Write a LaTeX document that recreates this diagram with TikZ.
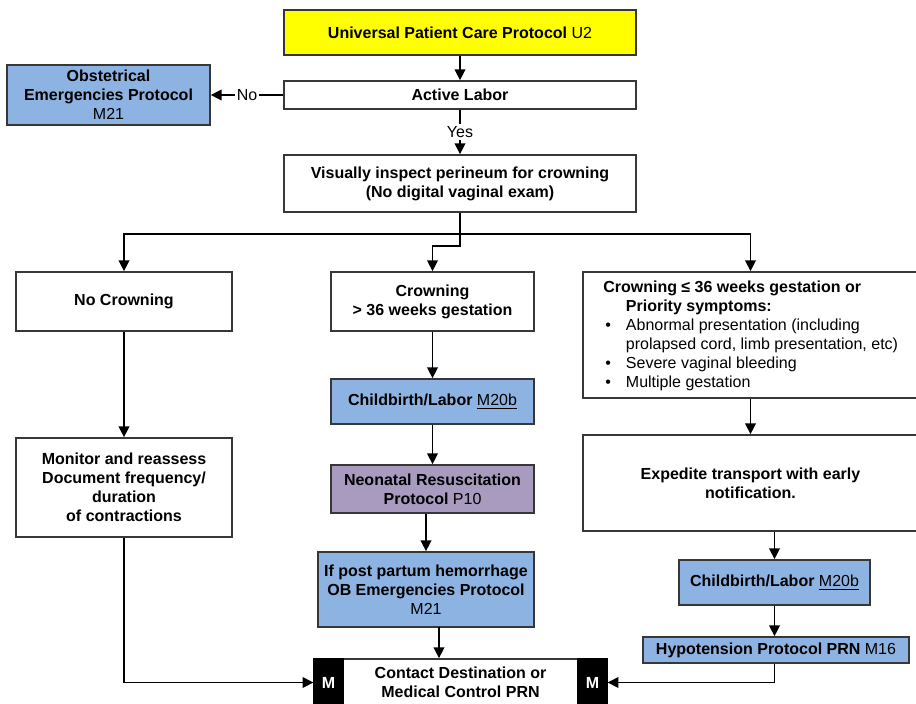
\documentclass[tikz,border=0pt]{standalone}
\usepackage{fontspec}
\setmainfont{Liberation Sans}
\usetikzlibrary{arrows.meta}
\definecolor{protoblue}{RGB}{141,179,226}
\definecolor{protopurple}{RGB}{168,155,191}
\definecolor{protoyellow}{RGB}{255,255,0}
\definecolor{edgegray}{RGB}{55,55,55}
% \flowbox[style]{name}{x1}{y1}{x2}{y2}{text}: a box given by its corners (in px)
\newcommand\flowbox[7][]{%
  \node[box,#1,minimum width={(#5-#3)*0.75pt},minimum height={(#6-#4)*0.75pt}]
    (#2) at ({(#3+#5)/2},{(#4+#6)/2}) {#7};}
\begin{document}
\begin{tikzpicture}[x=0.75pt,y=-0.75pt,
  every node/.style={font=\fontsize{12}{14.25}\selectfont},
  box/.style={draw=edgegray, line width=1.3pt, fill=white, inner sep=0pt, align=center},
  protobox/.style={fill=protoblue},
  mbox/.style={draw=black, fill=black, text=white, line width=1pt,
    font=\fontsize{12}{14.25}\selectfont\bfseries},
  flow/.style={-{Triangle[length=8pt,width=8pt]}, line width=1pt},
  lbl/.style={fill=white, inner sep=1.5pt}
]
\useasboundingbox (0,0) rectangle (916,703);
\fill[white] (0,0) rectangle (916,703);
\clip (0,0) rectangle (916,703);

% top of the chart
\flowbox[fill=protoyellow]{univ}{284}{10}{636}{55}{\textbf{Universal Patient Care Protocol} U2}
\flowbox{active}{284}{81}{636}{109}{\textbf{Active Labor}}
\flowbox[protobox]{obst}{7}{65}{210}{125}{\textbf{Obstetrical}\\\textbf{Emergencies Protocol}\\M21}
\flowbox{inspect}{284}{155}{636}{212}{\textbf{Visually inspect perineum for crowning}\\\textbf{(No digital vaginal exam)}}

% three branches
\flowbox{nocrown}{16}{272}{232}{331}{\textbf{No Crowning}}
\flowbox{crown}{331}{272}{534}{331}{\textbf{Crowning}\\\textbf{> 36 weeks gestation}}
\flowbox{early}{583}{272}{918}{398}{}
\node[anchor=north west, align=left, inner sep=0pt] (earlytext) at (603,281) {%
\textbf{Crowning ≤ 36 weeks gestation or}\\
\hspace*{17pt}\textbf{Priority symptoms:}\\
\makebox[17pt][l]{\hspace{1.5pt}•}Abnormal presentation (including\\
\hspace*{17pt}prolapsed cord, limb presentation, etc)\\
\makebox[17pt][l]{\hspace{1.5pt}•}Severe vaginal bleeding\\
\makebox[17pt][l]{\hspace{1.5pt}•}Multiple gestation};

% left column
\flowbox{monitor}{16}{438}{232}{537}{\textbf{Monitor and reassess}\\\textbf{Document frequency/}\\\textbf{duration}\\\textbf{of contractions}}

% middle column
\flowbox[protobox]{birthA}{331}{379}{534}{424}{\textbf{Childbirth/Labor} \underline{M20b}}
\flowbox[fill=protopurple]{neo}{331}{465}{534}{513}{\textbf{Neonatal Resuscitation}\\\textbf{Protocol} P10}
\flowbox[protobox]{pph}{318}{552}{534}{627}{\textbf{If post partum hemorrhage}\\\textbf{OB Emergencies Protocol}\\M21}

% right column
\flowbox{expedite}{583}{435}{918}{531}{\textbf{Expedite transport with early}\\\textbf{notification.}}
\flowbox[protobox]{birthB}{679}{560}{870}{605}{\textbf{Childbirth/Labor} \underline{M20b}}
\flowbox[protobox]{hypo}{643}{637}{909}{663}{\textbf{Hypotension Protocol PRN} M16}

% final contact box with medical control markers
\flowbox{contact}{314}{659}{607}{706}{\textbf{Contact Destination or}\\\textbf{Medical Control PRN}}
\flowbox[mbox]{mL}{314}{659}{343}{706}{M}
\flowbox[mbox]{mR}{578}{659}{607}{706}{M}

% connectors
\coordinate (split) at (460,234);
\coordinate (jog) at (460,246);
\coordinate (pphout) at (439,627);

\draw[flow] (univ) -- (active);
\draw[flow] (active) -- node[lbl] {No} (obst);
\draw[flow] (active) -- node[lbl] {Yes} (inspect);
\draw[flow] (inspect.south) -- (jog) -| (crown.north);
\draw[flow] (split) -| (nocrown.north);
\draw[flow] (split) -| (early.north);

\draw[flow] (nocrown) -- (monitor);
\draw[flow] (monitor.south) |- (mL.west);

\draw[flow] (crown) -- (birthA);
\draw[flow] (birthA) -- (neo);
\draw[flow] (pph.north |- neo.south) -- (pph.north);
\draw[flow] (pphout) -- (pphout |- contact.north);

\draw[flow] (early) -- (expedite);
\draw[flow] (expedite.south -| birthB.north) -- (birthB.north);
\draw[flow] (birthB.south) -- (birthB.south |- hypo.north);
\draw[flow] (birthB.south |- hypo.south) |- (mR.east);
\end{tikzpicture}
\end{document}
